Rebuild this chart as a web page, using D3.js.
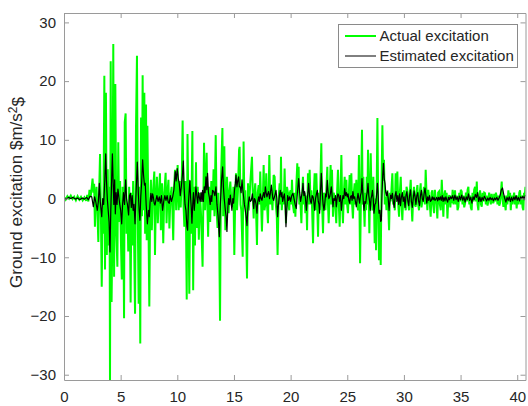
<!DOCTYPE html>
<html><head><meta charset="utf-8">
<script src="https://cdn.jsdelivr.net/npm/d3@7"></script>
<style>body{margin:0;background:#fff}svg{display:block}text{font-family:"Liberation Sans",Arial,Helvetica,sans-serif}</style>
</head><body>
<svg id="c" width="528" height="406"></svg>
<script>
// ---- data ----
const xTicks = [0, 5, 10, 15, 20, 25, 30, 35, 40];
const yTicks = [-30, -20, -10, 0, 10, 20, 30];
const xDomain = [0, 40.73];
const yDomain = [-30.9, 31.6];
const seriesNames = ["Actual excitation", "Estimated excitation"];
const yLabelMain = "Ground excitation $m/s";
const yLabelSup = "2";
const yLabelEnd = "$";

// [time s, excitation]
const actualExcitation = [[0.00,0.3],[0.15,-0.2],[0.3,0.4],[0.45,0.0],[0.6,0.5],[0.75,-0.1],[0.9,0.3],[1.05,-0.3],[1.2,0.4],[1.35,-0.2],[1.5,0.3],[1.65,-0.3],[1.8,0.2],[1.95,-0.4],[2.05,0.6],[2.15,-0.5],[2.25,1.5],[2.35,0.2],[2.45,2.0],[2.52,3.4],[2.6,1.0],[2.66,2.5],[2.73,-4.8],[2.8,0.5],[2.87,2.0],[2.95,-2.5],[3.03,-7.4],[3.1,1.0],[3.18,7.6],[3.26,-3.0],[3.33,-15.0],[3.4,-2.0],[3.47,-6.0],[3.56,20.9],[3.62,-12.1],[3.7,18.0],[3.78,-9.6],[3.86,5.0],[3.95,-8.0],[4.02,2.0],[4.06,-31.5],[4.12,23.4],[4.2,-17.6],[4.27,-5.0],[4.35,26.3],[4.42,-13.3],[4.48,2.0],[4.53,19.5],[4.62,-6.0],[4.71,-11.6],[4.79,9.6],[4.87,-4.0],[4.95,3.0],[5.02,-7.0],[5.1,-13.8],[5.17,2.0],[5.23,-2.0],[5.3,-20.4],[5.36,13.0],[5.44,14.5],[5.52,-6.0],[5.6,-1.0],[5.67,-9.0],[5.75,2.0],[5.82,-4.0],[5.88,-17.7],[5.95,1.0],[6.02,-8.0],[6.1,3.0],[6.18,-6.0],[6.27,-19.6],[6.35,11.4],[6.44,24.3],[6.52,-5.0],[6.59,-17.9],[6.66,2.0],[6.73,-24.7],[6.8,13.8],[6.88,-3.0],[6.94,21.0],[7.02,-2.0],[7.09,18.0],[7.16,-6.0],[7.24,16.0],[7.3,-7.1],[7.36,12.4],[7.45,-3.0],[7.53,-18.4],[7.6,-2.0],[7.67,3.2],[7.75,-5.4],[7.85,1.0],[7.97,4.6],[8.03,-9.6],[8.1,-1.0],[8.2,3.7],[8.28,-4.2],[8.38,1.0],[8.47,4.3],[8.55,-5.4],[8.65,2.6],[8.76,-7.6],[8.85,1.0],[8.97,4.4],[9.05,-4.2],[9.15,1.5],[9.22,3.2],[9.3,-5.1],[9.4,0.5],[9.5,2.0],[9.57,-2.0],[9.64,-7.1],[9.72,2.0],[9.8,4.9],[9.9,-2.0],[10.03,5.7],[10.12,-2.0],[10.2,3.0],[10.3,-1.5],[10.4,4.0],[10.47,13.3],[10.55,-1.0],[10.62,-4.8],[10.7,3.0],[10.76,-2.0],[10.83,-17.2],[10.9,11.0],[10.98,-2.0],[11.06,-16.2],[11.14,3.0],[11.22,-6.0],[11.33,11.5],[11.4,-15.6],[11.48,2.0],[11.56,-8.0],[11.65,6.2],[11.72,-5.0],[11.8,2.0],[11.9,-7.0],[12.0,1.0],[12.1,-3.0],[12.23,-11.6],[12.36,9.5],[12.45,-2.0],[12.52,3.0],[12.59,7.8],[12.65,-1.0],[12.72,-6.5],[12.8,2.0],[12.9,-4.0],[13.0,3.0],[13.1,-2.0],[13.2,5.0],[13.28,-3.0],[13.39,10.8],[13.47,-2.0],[13.55,-5.0],[13.62,1.0],[13.7,-7.0],[13.77,-20.8],[13.85,3.0],[13.98,12.0],[14.05,-3.0],[14.15,8.9],[14.24,-5.4],[14.38,3.7],[14.53,-2.5],[14.6,1.0],[14.68,2.9],[14.78,-1.0],[14.88,-1.4],[14.95,2.0],[15.03,-9.6],[15.12,1.0],[15.18,4.3],[15.27,-2.0],[15.35,1.2],[15.45,8.3],[15.5,8.8],[15.58,-1.0],[15.65,-2.0],[15.77,-9.9],[15.85,9.7],[15.92,-1.0],[16.0,1.4],[16.07,-4.0],[16.15,-13.6],[16.24,2.6],[16.3,-2.0],[16.35,-0.8],[16.45,3.0],[16.59,7.1],[16.67,0.0],[16.74,-3.4],[16.81,1.0],[16.88,2.6],[16.95,-2.0],[17.03,-7.9],[17.1,1.0],[17.18,2.3],[17.25,-1.0],[17.32,4.6],[17.4,-1.0],[17.47,-5.6],[17.55,0.0],[17.62,5.7],[17.7,-2.0],[17.77,-0.8],[17.85,4.3],[17.92,-1.0],[18.0,-4.2],[18.06,1.0],[18.12,7.4],[18.2,-1.0],[18.3,1.2],[18.4,-2.0],[18.5,4.0],[18.59,3.7],[18.65,0.5],[18.71,-1.4],[18.78,-3.0],[18.85,-9.6],[18.94,0.0],[19.03,2.6],[19.1,-1.0],[19.15,7.1],[19.22,-2.0],[19.32,1.2],[19.4,-1.0],[19.47,5.1],[19.53,0.0],[19.59,-4.2],[19.68,2.0],[19.77,0.9],[19.82,-1.0],[19.88,-2.0],[19.94,1.0],[20.0,1.4],[20.06,-1.0],[20.12,3.2],[20.2,-1.0],[20.3,-2.5],[20.36,1.0],[20.42,-3.1],[20.5,2.0],[20.59,6.0],[20.65,1.0],[20.71,5.4],[20.77,-1.0],[20.83,0.3],[20.9,-2.0],[20.95,-4.2],[21.02,1.0],[21.09,3.7],[21.16,-1.0],[21.22,1.0],[21.3,-2.5],[21.38,0.5],[21.45,-5.4],[21.53,4.3],[21.6,-1.0],[21.68,4.9],[21.76,-1.0],[21.83,1.4],[21.9,-2.0],[21.98,-7.6],[22.05,1.0],[22.12,4.3],[22.2,-2.0],[22.27,4.3],[22.35,-1.0],[22.42,-6.5],[22.5,1.0],[22.56,-2.0],[22.63,3.0],[22.71,9.4],[22.78,-1.0],[22.86,-5.9],[22.93,1.0],[23.0,0.3],[23.08,-2.0],[23.15,1.4],[23.24,5.4],[23.3,-1.0],[23.36,-4.2],[23.45,1.0],[23.53,5.7],[23.6,-1.0],[23.65,4.9],[23.74,-3.1],[23.8,1.0],[23.89,0.3],[23.96,-2.0],[24.03,-4.2],[24.1,1.0],[24.18,4.9],[24.25,-1.0],[24.33,-4.8],[24.4,1.0],[24.48,7.4],[24.55,-1.0],[24.62,-4.2],[24.7,1.0],[24.77,3.7],[24.85,-1.0],[24.92,3.2],[24.99,-1.0],[25.06,-2.5],[25.14,1.0],[25.21,4.0],[25.28,-1.0],[25.36,4.3],[25.43,-1.0],[25.5,-3.4],[25.58,1.0],[25.65,2.6],[25.72,-1.0],[25.8,3.2],[25.88,-1.0],[25.95,-2.0],[26.03,7.4],[26.13,-11.0],[26.22,2.0],[26.3,11.7],[26.36,-1.0],[26.42,3.7],[26.48,-2.0],[26.53,-4.8],[26.6,1.0],[26.66,-2.0],[26.72,3.7],[26.78,-1.0],[26.83,8.3],[26.9,-1.0],[26.95,-5.9],[27.01,1.0],[27.07,7.7],[27.14,0.0],[27.22,-2.0],[27.3,3.7],[27.36,-1.0],[27.42,-7.6],[27.48,0.0],[27.54,-8.8],[27.6,2.0],[27.66,13.7],[27.73,-1.0],[27.8,-10.5],[27.88,-2.0],[27.95,-11.3],[28.02,2.0],[28.1,12.5],[28.17,3.0],[28.24,6.6],[28.31,-1.0],[28.39,0.3],[28.46,-2.0],[28.54,1.4],[28.61,-1.0],[28.69,-5.4],[28.76,1.0],[28.83,-0.5],[28.9,1.5],[28.98,4.3],[29.05,-1.0],[29.13,-0.3],[29.2,-2.0],[29.27,4.3],[29.35,0.0],[29.42,4.6],[29.5,-1.0],[29.57,-3.1],[29.64,1.0],[29.72,3.7],[29.79,-1.0],[29.86,-3.7],[29.94,0.5],[30.01,1.4],[30.08,-1.0],[30.16,-2.0],[30.23,2.0],[30.3,1.4],[30.38,-1.0],[30.45,-2.0],[30.52,1.0],[30.6,3.2],[30.67,-1.0],[30.74,-3.9],[30.82,0.5],[30.89,2.0],[30.96,-1.0],[31.04,-1.4],[31.11,1.0],[31.19,2.3],[31.26,-1.0],[31.33,-2.0],[31.4,1.0],[31.48,2.6],[31.55,-1.5],[31.63,-0.5],[31.7,1.0],[31.77,2.0],[31.85,-1.0],[31.92,4.9],[32.0,0.5],[32.07,-2.0],[32.15,1.5],[32.22,0.3],[32.29,-1.0],[32.36,-3.1],[32.44,1.0],[32.51,1.4],[32.58,-1.0],[32.66,-2.5],[32.73,1.5],[32.8,0.3],[32.88,-1.0],[32.95,-3.4],[33.02,1.0],[33.1,1.2],[33.17,-1.0],[33.25,-2.0],[33.3,1.0],[33.34,3.2],[33.41,0.0],[33.48,-3.1],[33.55,0.5],[33.63,1.4],[33.7,-1.0],[33.77,1.0],[33.84,-3.4],[33.92,0.0],[34.01,0.6],[34.1,-1.5],[34.16,0.5],[34.22,-0.8],[34.3,1.5],[34.38,-1.0],[34.45,0.5],[34.51,1.4],[34.58,-1.0],[34.66,0.5],[34.73,-2.0],[34.81,-1.4],[34.88,1.0],[34.95,-0.5],[35.02,1.5],[35.1,1.2],[35.17,-1.0],[35.25,0.5],[35.32,-1.5],[35.4,-0.8],[35.47,1.0],[35.55,-0.5],[35.62,1.5],[35.69,2.0],[35.77,-1.0],[35.84,0.5],[35.9,-1.5],[35.98,-2.0],[36.05,1.0],[36.13,-0.5],[36.2,1.5],[36.28,2.0],[36.35,-0.5],[36.43,2.9],[36.5,-1.0],[36.57,-2.0],[36.64,0.5],[36.72,1.4],[36.8,-1.0],[36.87,-1.4],[36.94,1.0],[37.02,-0.5],[37.09,1.0],[37.16,0.9],[37.23,-1.0],[37.3,0.5],[37.38,-1.2],[37.45,-0.5],[37.52,1.0],[37.6,0.3],[37.67,-1.0],[37.75,0.8],[37.82,-0.5],[37.9,-0.8],[37.97,0.8],[38.04,-0.5],[38.12,1.0],[38.19,0.3],[38.26,-1.0],[38.34,0.5],[38.41,-1.2],[38.48,-0.8],[38.56,1.0],[38.63,2.9],[38.7,0.0],[38.78,-1.4],[38.85,0.5],[38.92,-1.0],[38.98,-2.0],[39.05,0.5],[39.13,-1.0],[39.22,1.4],[39.3,-0.5],[39.37,1.0],[39.43,-2.0],[39.5,0.5],[39.58,-1.0],[39.66,0.3],[39.73,1.0],[39.8,-1.0],[39.87,0.5],[39.95,-1.7],[40.02,0.5],[40.1,-1.0],[40.18,1.0],[40.25,1.4],[40.32,-1.0],[40.4,0.5],[40.47,-1.5],[40.54,-2.0],[40.6,1.0],[40.67,0.5],[40.73,2.0]];

const estimatedExcitation = [[0,0.1],[0.2,-0.1],[0.4,0.2],[0.6,0.0],[0.8,0.2],[1.0,-0.1],[1.2,0.1],[1.4,-0.2],[1.6,0.1],[1.8,-0.1],[2.0,0.2],[2.15,-0.2],[2.3,0.4],[2.45,0.3],[2.59,-1.4],[2.7,0.3],[2.8,-0.5],[2.94,-2.0],[3.03,-0.5],[3.12,2.6],[3.2,-0.5],[3.33,-3.1],[3.42,0.0],[3.5,-1.0],[3.6,3.0],[3.68,7.6],[3.75,3.0],[3.82,0.0],[3.9,-2.0],[3.98,-4.0],[4.06,-9.1],[4.13,-2.0],[4.2,3.0],[4.27,7.6],[4.34,2.6],[4.4,-1.0],[4.47,3.2],[4.53,-2.6],[4.6,1.0],[4.68,-1.0],[4.76,1.6],[4.84,0.3],[4.92,-1.0],[5.0,-2.0],[5.09,-4.3],[5.17,-1.0],[5.25,1.0],[5.34,-1.0],[5.44,3.2],[5.52,0.0],[5.6,-1.0],[5.7,-2.8],[5.78,0.5],[5.86,0.9],[5.94,-1.5],[6.02,0.5],[6.1,-2.0],[6.18,-1.0],[6.27,-4.3],[6.36,1.0],[6.47,6.2],[6.56,1.0],[6.63,-2.0],[6.7,-3.7],[6.78,0.5],[6.86,3.0],[6.94,6.6],[7.02,4.0],[7.1,2.3],[7.17,2.6],[7.25,-1.0],[7.36,-4.3],[7.45,-2.0],[7.53,-3.1],[7.6,-0.5],[7.67,0.9],[7.75,-0.5],[7.82,0.8],[7.88,0.3],[7.96,-0.8],[8.03,-1.1],[8.11,-0.3],[8.2,0.5],[8.3,-0.5],[8.41,0.3],[8.5,-0.8],[8.6,0.5],[8.7,-2.0],[8.8,-0.5],[8.9,0.5],[9.0,-0.3],[9.1,0.5],[9.2,-0.6],[9.29,-0.8],[9.38,0.5],[9.48,-0.5],[9.59,0.3],[9.7,1.5],[9.82,4.6],[9.9,3.0],[9.99,5.1],[10.08,3.5],[10.17,2.6],[10.26,0.5],[10.35,2.0],[10.45,4.0],[10.53,6.4],[10.6,2.0],[10.68,-1.0],[10.76,-2.0],[10.85,-4.8],[10.91,-5.4],[10.98,-1.0],[11.04,1.0],[11.11,3.1],[11.18,0.0],[11.23,-1.5],[11.29,-4.2],[11.36,-1.0],[11.42,1.0],[11.5,-2.0],[11.57,0.0],[11.64,2.0],[11.72,0.5],[11.8,-0.8],[11.87,1.0],[11.94,0.3],[12.02,-0.5],[12.1,1.0],[12.17,-0.5],[12.23,1.4],[12.3,-0.5],[12.38,2.0],[12.45,1.0],[12.53,3.7],[12.6,1.5],[12.67,4.3],[12.75,1.0],[12.82,0.3],[12.9,-1.0],[12.97,0.5],[13.04,-0.5],[13.11,1.4],[13.21,1.2],[13.31,0.5],[13.41,2.0],[13.5,-1.0],[13.6,-3.0],[13.71,-6.5],[13.8,-1.0],[13.9,3.0],[14.0,5.4],[14.07,2.0],[14.14,0.0],[14.24,-2.0],[14.31,-3.0],[14.38,-5.6],[14.46,-1.5],[14.53,0.0],[14.6,-1.0],[14.68,0.6],[14.75,-0.8],[14.82,-2.0],[14.9,0.0],[14.97,-0.8],[15.05,1.5],[15.12,2.5],[15.18,4.0],[15.26,2.0],[15.33,3.0],[15.41,3.7],[15.48,2.0],[15.56,2.0],[15.63,1.0],[15.71,3.2],[15.78,1.5],[15.85,0.3],[15.92,-1.0],[16.0,-2.0],[16.07,-3.0],[16.15,-4.6],[16.22,-2.0],[16.29,-0.5],[16.35,0.3],[16.44,-0.5],[16.53,-0.3],[16.63,0.8],[16.74,-1.7],[16.81,0.0],[16.88,-0.3],[16.95,-1.0],[17.03,-2.5],[17.1,-0.5],[17.18,0.3],[17.25,-0.5],[17.32,0.8],[17.4,0.0],[17.47,-0.3],[17.55,0.5],[17.62,1.0],[17.7,0.2],[17.77,2.0],[17.84,1.0],[17.91,0.3],[17.98,0.8],[18.06,1.2],[18.14,0.0],[18.22,1.0],[18.3,2.3],[18.37,1.0],[18.44,0.0],[18.5,-0.3],[18.6,0.5],[18.71,1.4],[18.78,0.0],[18.85,-3.1],[18.93,-1.0],[19.01,0.5],[19.09,1.4],[19.16,0.3],[19.23,1.0],[19.3,-0.5],[19.38,0.3],[19.45,0.8],[19.52,-1.0],[19.59,-4.8],[19.66,-2.0],[19.74,0.5],[19.82,-0.3],[19.92,0.3],[20.0,-0.5],[20.1,0.5],[20.21,0.9],[20.3,0.0],[20.4,-1.0],[20.5,-1.7],[20.6,1.0],[20.71,3.4],[20.8,1.0],[20.88,-0.5],[20.95,0.3],[21.02,1.0],[21.09,2.6],[21.17,0.5],[21.24,1.2],[21.31,0.0],[21.39,-2.0],[21.47,0.0],[21.53,1.0],[21.59,2.6],[21.67,0.5],[21.75,-0.5],[21.83,-0.8],[21.9,0.5],[21.98,0.3],[22.05,-0.5],[22.12,-2.0],[22.2,0.0],[22.28,0.8],[22.36,1.4],[22.44,-0.5],[22.5,-1.0],[22.56,-2.5],[22.63,1.0],[22.71,4.3],[22.79,1.0],[22.87,-1.0],[22.95,-2.0],[23.03,-0.5],[23.09,0.8],[23.15,0.3],[23.24,3.1],[23.31,1.0],[23.38,0.0],[23.45,0.3],[23.52,1.0],[23.59,2.0],[23.66,0.5],[23.74,-1.4],[23.81,0.0],[23.89,-0.3],[23.96,0.5],[24.03,-1.4],[24.1,0.0],[24.17,0.8],[24.24,0.6],[24.31,-0.5],[24.4,0.5],[24.48,-2.0],[24.55,-0.5],[24.62,0.5],[24.7,0.0],[24.77,1.7],[24.85,0.5],[24.92,1.0],[25.0,0.3],[25.07,0.8],[25.14,-0.3],[25.21,-0.8],[25.28,0.3],[25.36,0.5],[25.43,-0.3],[25.5,1.2],[25.57,0.0],[25.65,0.3],[25.72,-0.5],[25.8,-1.4],[25.88,0.0],[25.95,0.9],[26.02,0.0],[26.09,-0.8],[26.16,0.5],[26.23,1.0],[26.3,3.4],[26.37,1.0],[26.43,-1.0],[26.48,-2.0],[26.55,-0.5],[26.63,-0.8],[26.7,0.5],[26.76,1.0],[26.83,2.6],[26.9,0.5],[26.97,-0.5],[27.03,-2.0],[27.1,0.0],[27.16,0.5],[27.22,1.4],[27.29,0.0],[27.36,-2.5],[27.44,-1.0],[27.51,-0.8],[27.58,0.5],[27.66,2.6],[27.73,0.5],[27.8,-2.5],[27.88,-2.0],[27.95,-3.9],[28.01,-3.7],[28.07,1.0],[28.13,4.0],[28.19,6.0],[28.26,3.5],[28.33,2.6],[28.4,1.0],[28.47,0.5],[28.54,1.2],[28.61,0.0],[28.69,-2.0],[28.76,-0.5],[28.83,0.6],[28.9,0.0],[28.98,0.9],[29.06,-0.5],[29.14,-1.5],[29.22,0.5],[29.3,1.2],[29.38,-0.5],[29.46,0.5],[29.54,-1.0],[29.62,0.8],[29.7,-1.2],[29.78,0.3],[29.86,1.0],[29.94,-0.5],[30.02,0.3],[30.1,-1.5],[30.18,0.5],[30.26,1.2],[30.34,-0.3],[30.42,-1.2],[30.5,0.5],[30.58,1.5],[30.66,-0.5],[30.74,-1.5],[30.82,0.0],[30.9,1.3],[30.98,0.3],[31.06,-1.0],[31.14,0.5],[31.22,1.0],[31.3,-0.5],[31.38,-1.2],[31.46,0.5],[31.54,1.4],[31.62,0.0],[31.7,-0.5],[31.78,0.8],[31.86,1.8],[31.94,0.5],[32.02,-0.8],[32.1,0.3],[32.18,-0.3],[32.26,0.5],[32.34,-0.5],[32.42,-0.3],[32.5,0.3],[32.58,-0.2],[32.66,0.2],[32.74,-0.3],[32.82,-0.1],[32.9,0.2],[32.98,-0.4],[33.06,0.2],[33.14,-0.2],[33.22,0.3],[33.3,-0.3],[33.38,0.5],[33.46,-0.5],[33.54,0.2],[33.62,-0.4],[33.7,0.3],[33.78,-0.2],[33.86,-0.6],[33.94,0.2],[34.02,-0.2],[34.1,0.3],[34.2,0.0],[34.3,0.5],[34.4,-0.3],[34.5,0.6],[34.6,-0.2],[34.7,0.3],[34.8,-0.5],[34.9,0.4],[35.0,-0.2],[35.1,0.6],[35.2,-0.3],[35.3,0.3],[35.4,-0.6],[35.5,0.3],[35.6,-0.2],[35.7,0.8],[35.8,-0.3],[35.9,0.2],[36.0,-0.8],[36.1,0.3],[36.2,-0.2],[36.3,0.7],[36.4,0.2],[36.5,1.0],[36.6,-0.5],[36.7,0.3],[36.8,-0.5],[36.9,0.2],[37.0,-0.3],[37.1,0.4],[37.2,0.0],[37.3,-0.4],[37.4,0.1],[37.5,-0.3],[37.6,0.2],[37.7,-0.2],[37.8,0.1],[37.9,-0.4],[38.0,0.1],[38.1,-0.2],[38.2,0.2],[38.3,-0.3],[38.4,0.1],[38.5,0.6],[38.6,1.5],[38.7,1.8],[38.8,0.8],[38.9,0.0],[39.0,-0.6],[39.1,0.2],[39.2,-0.3],[39.3,0.3],[39.4,-0.5],[39.5,0.2],[39.6,-0.4],[39.7,0.3],[39.8,-0.2],[39.9,0.5],[40.0,-0.3],[40.1,0.2],[40.2,-0.4],[40.3,0.3],[40.4,0.0],[40.5,0.4],[40.6,-0.2],[40.73,0.6]];

// ---- drawing ----
const W = 528, H = 406;
const padL = 64, padR = 525.5, padT = 13, padB = 380;
const axisColor = "#9a9a9a", textColor = "#262626";
const fontSize = 15;

const svg = d3.select("#c");
svg.append("rect").attr("width", W).attr("height", H).attr("fill", "#fff");

const x = d3.scaleLinear().domain(xDomain).range([padL, padR]);
const y = d3.scaleLinear().domain(yDomain).range([padB, padT]);

svg.append("defs").append("clipPath").attr("id", "clip")
  .append("rect").attr("x", padL).attr("y", padT).attr("width", padR - padL).attr("height", padB - padT);

const line = d3.line().x(d => x(d[0])).y(d => y(d[1]));

const plot = svg.append("g").attr("clip-path", "url(#clip)");
plot.append("path").datum(actualExcitation).attr("d", line)
  .attr("fill", "none").attr("stroke", "#00ff00").attr("stroke-width", 2).attr("stroke-linejoin", "miter").attr("stroke-miterlimit", 3);
plot.append("path").datum(estimatedExcitation).attr("d", line)
  .attr("fill", "none").attr("stroke", "#000").attr("stroke-width", 1.2).attr("stroke-linejoin", "round");

function styleAxis(g, showText) {
  g.select(".domain").attr("stroke", axisColor);
  g.selectAll(".tick line").attr("stroke", axisColor);
  g.selectAll(".tick text").attr("fill", textColor).style("font-size", fontSize + "px")
    .style("font-family", '"Liberation Sans",Arial,Helvetica,sans-serif')
    .attr("display", showText ? null : "none");
}

svg.append("g").attr("transform", `translate(0,${padB})`)
  .call(d3.axisBottom(x).tickValues(xTicks).tickFormat(d3.format("d")).tickSize(-5).tickSizeOuter(0).tickPadding(11))
  .call(g => styleAxis(g, true));
svg.append("g").attr("transform", `translate(0,${padT})`)
  .call(d3.axisTop(x).tickValues(xTicks).tickSize(-5).tickSizeOuter(0))
  .call(g => styleAxis(g, false));
svg.append("g").attr("transform", `translate(${padL},0)`)
  .call(d3.axisLeft(y).tickValues(yTicks).tickFormat(d3.format("d")).tickSize(-5).tickSizeOuter(0).tickPadding(8))
  .call(g => styleAxis(g, true));
svg.append("g").attr("transform", `translate(${padR},0)`)
  .call(d3.axisRight(y).tickValues(yTicks).tickSize(-5).tickSizeOuter(0))
  .call(g => styleAxis(g, false));

// y label
const yl = svg.append("text")
  .attr("transform", `translate(22,${(padT + padB) / 2 - 4}) rotate(-90)`)
  .attr("text-anchor", "middle").attr("fill", textColor).style("font-size", "17px");
yl.append("tspan").text(yLabelMain);
yl.append("tspan").attr("dy", "-0.45em").style("font-size", "12px").text(yLabelSup);
yl.append("tspan").attr("dy", "0.45em").text(yLabelEnd);

// legend
const lg = svg.append("g");
lg.append("rect").attr("x", 338.5).attr("y", 24.5).attr("width", 179).attr("height", 43)
  .attr("fill", "#fff").attr("stroke", "#8a8a8a").attr("stroke-width", 1);
const legendColors = ["#00ff00", "#000"];
const legendWidths = [2, 1];
seriesNames.forEach((name, i) => {
  const yy = 36 + i * 20;
  lg.append("line").attr("x1", 345).attr("x2", 376).attr("y1", yy).attr("y2", yy)
    .attr("stroke", legendColors[i]).attr("stroke-width", legendWidths[i]);
  lg.append("text").attr("x", 379.5).attr("y", yy).attr("dy", "0.35em")
    .attr("fill", textColor).style("font-size", fontSize + "px").text(name);
});
</script>
</body></html>
